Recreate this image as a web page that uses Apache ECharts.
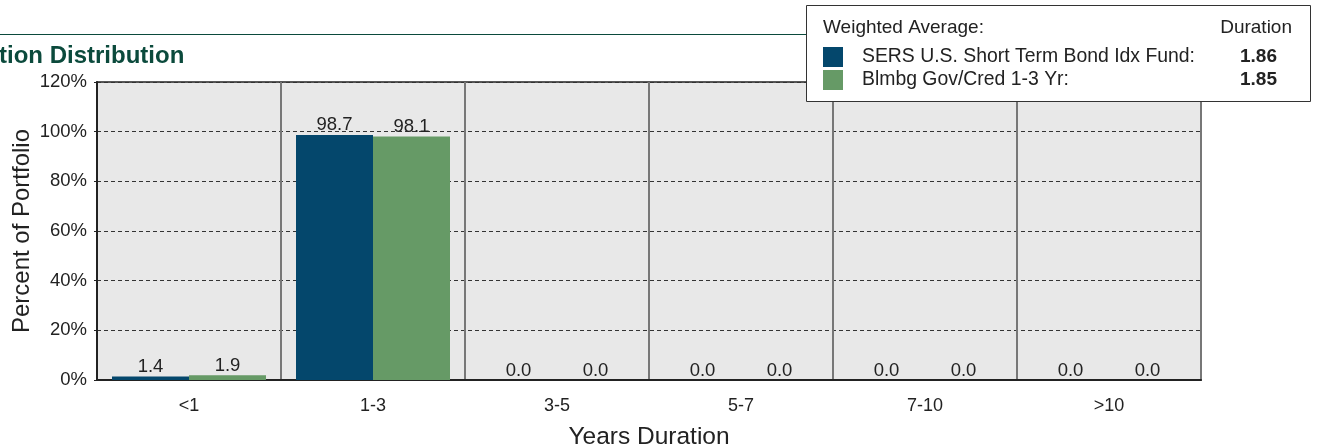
<!DOCTYPE html>
<html>
<head>
<meta charset="utf-8">
<script src="https://cdn.jsdelivr.net/npm/echarts@6/dist/echarts.min.js"></script>
<style>
html,body{margin:0;padding:0;background:#fff;}
#chart{width:1317px;height:446px;}
</style>
</head>
<body>
<div id="chart"></div>
<script>
const categories = ['<1', '1-3', '3-5', '5-7', '7-10', '>10'];
const fundValues = [1.4, 98.7, 0.0, 0.0, 0.0, 0.0];
const benchValues = [1.9, 98.1, 0.0, 0.0, 0.0, 0.0];
const fundName = 'SERS U.S. Short Term Bond Idx Fund:';
const benchName = 'Blmbg Gov/Cred 1-3 Yr:';
const fundDuration = '1.86';
const benchDuration = '1.85';
const yTicks = [0, 20, 40, 60, 80, 100, 120];

const FONT = '"Liberation Sans", Arial, sans-serif';
const BLUE = '#04476c';
const GREEN = '#669a66';

const chart = echarts.init(document.getElementById('chart'), null, {renderer: 'canvas'});

const labelCfg = {
  show: true, position: 'top', distance: 0,
  color: '#222', fontFamily: FONT, fontSize: 18.5,
  formatter: p => p.value.toFixed(1)
};

chart.setOption({
  animation: false,
  backgroundColor: '#fff',
  grid: {
    left: 97, right: 116, top: 82, bottom: 66,
    containLabel: false, outerBoundsMode: 'none',
    show: true, backgroundColor: '#e8e8e8', borderColor: '#222', borderWidth: 1.5
  },
  xAxis: {
    type: 'category',
    data: categories,
    name: 'Years Duration',
    nameLocation: 'middle',
    nameGap: 45,
    nameMoveOverlap: false,
    nameTextStyle: {fontFamily: FONT, fontSize: 24.5, color: '#222'},
    axisLine: {show: true, lineStyle: {color: '#222', width: 2}},
    axisTick: {show: false},
    axisLabel: {fontFamily: FONT, fontSize: 18, color: '#222', margin: 17},
    splitLine: {show: true, lineStyle: {color: '#777', width: 2, type: 'solid'}}
  },
  yAxis: {
    type: 'value',
    min: yTicks[0], max: yTicks[yTicks.length - 1], interval: 20,
    name: 'Percent of Portfolio',
    nameLocation: 'middle',
    nameGap: 63,
    nameMoveOverlap: false,
    nameTextStyle: {fontFamily: FONT, fontSize: 24, color: '#222'},
    axisLine: {show: true, lineStyle: {color: '#222', width: 2}},
    axisTick: {show: true, length: 3, lineStyle: {color: '#222'}},
    axisLabel: {fontFamily: FONT, fontSize: 18.5, color: '#222', margin: 10, formatter: v => v + '%'},
    splitLine: {show: true, lineStyle: {color: '#333', width: 1, type: [4, 3]}}
  },
  series: [
    {type: 'bar', name: fundName, data: fundValues, barWidth: 77, barGap: '0%',
     itemStyle: {color: BLUE}, label: labelCfg},
    {type: 'bar', name: benchName, data: benchValues, barWidth: 77, barGap: '0%',
     itemStyle: {color: GREEN}, label: labelCfg}
  ],
  graphic: [
    {type: 'line', shape: {x1: 0, y1: 34.5, x2: 806, y2: 34.5}, style: {stroke: '#0b4a3c', lineWidth: 1}, z: 1},
    {type: 'text', left: -1, top: 44, style: {text: 'tion Distribution', fill: '#0b4a3c', font: 'bold 24px ' + FONT}},
    {type: 'rect', shape: {x: 806.5, y: 5.5, width: 504, height: 96}, style: {fill: '#fff', stroke: '#333', lineWidth: 1}, z: 10},
    {type: 'text', x: 823, y: 28, z: 11, style: {text: 'Weighted Average:', fill: '#222', font: '19px ' + FONT, textVerticalAlign: 'middle'}},
    {type: 'text', x: 1292, y: 28, z: 11, style: {text: 'Duration', fill: '#222', font: '19px ' + FONT, textAlign: 'right', textVerticalAlign: 'middle'}},
    {type: 'rect', z: 11, shape: {x: 823, y: 47, width: 20, height: 20}, style: {fill: BLUE}},
    {type: 'rect', z: 11, shape: {x: 823, y: 70, width: 20, height: 20}, style: {fill: GREEN}},
    {type: 'text', x: 862, y: 57, z: 11, style: {text: fundName, fill: '#222', font: '19.4px ' + FONT, textVerticalAlign: 'middle'}},
    {type: 'text', x: 862, y: 80, z: 11, style: {text: benchName, fill: '#222', font: '19.4px ' + FONT, textVerticalAlign: 'middle'}},
    {type: 'text', x: 1277, y: 57, z: 11, style: {text: fundDuration, fill: '#222', font: 'bold 19px ' + FONT, textAlign: 'right', textVerticalAlign: 'middle'}},
    {type: 'text', x: 1277, y: 80, z: 11, style: {text: benchDuration, fill: '#222', font: 'bold 19px ' + FONT, textAlign: 'right', textVerticalAlign: 'middle'}}
  ]
});
</script>
</body>
</html>
